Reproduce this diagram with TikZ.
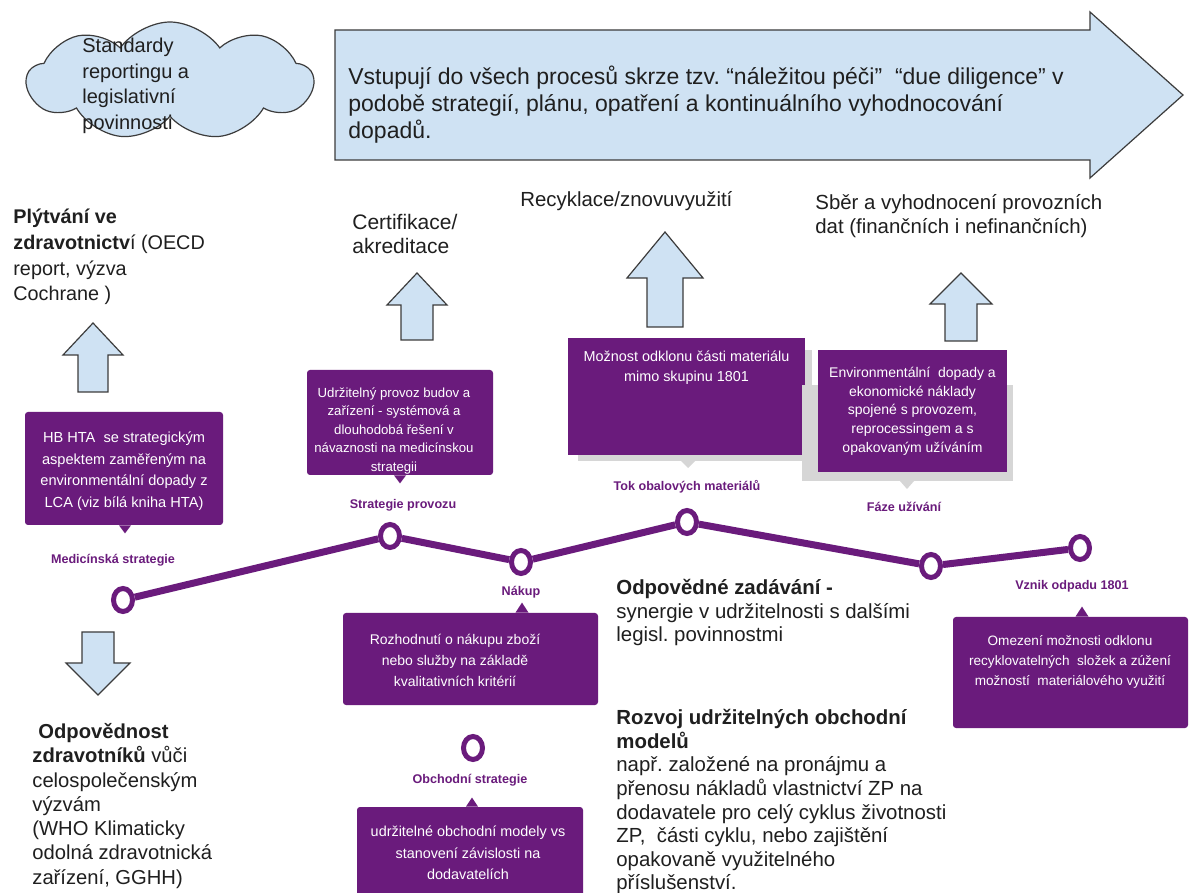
\documentclass[tikz,border=0pt]{standalone}
\usepackage{fontspec}
\setmainfont{Liberation Sans}
\usepackage{tikz}
\usetikzlibrary{shapes.geometric, shapes.symbols, calc, positioning}
\frenchspacing
\definecolor{purp}{RGB}{106,27,124}
\definecolor{lightblue}{RGB}{207,226,243}
\definecolor{edgegray}{RGB}{60,60,60}
\definecolor{shadowgray}{RGB}{214,214,214}
\tikzstyle{txt} = [align=left, inner sep=0pt, text=black!88, font=\fontsize{10.2}{11.8}\selectfont]
\tikzstyle{bigtxt} = [txt, font=\fontsize{11.5}{13.5}\selectfont]
\tikzstyle{card} = [rectangle, rounded corners=1.5pt, fill=purp, inner sep=0pt]
\tikzstyle{flatcard} = [card, rounded corners=0pt]
\tikzstyle{cardtxt} = [text=white, align=center, inner sep=0pt, font=\fontsize{7}{10.5}\selectfont]
\tikzstyle{stage} = [text=purp, inner sep=0pt, font=\bfseries\fontsize{6.3}{8}\selectfont]
\tikzstyle{station} = [ellipse, draw=purp, line width=2.5pt, fill=white, minimum width=9.5pt, minimum height=11.5pt, inner sep=0pt]
\tikzstyle{track} = [draw=purp, line width=3.5pt]
\tikzstyle{blockarrow} = [draw=edgegray, fill=lightblue, line width=0.6pt, line join=miter]

\begin{document}
\begin{tikzpicture}[x=0.5pt, y=-0.5pt]
		\fill[white] (0,0) rectangle (1196,893);
		\useasboundingbox (0,0) rectangle (1196,893);

		% top: cloud and big arrow
		\node (Cloud) [cloud, draw=edgegray, fill=lightblue, line width=0.6pt, cloud puffs=9, cloud puff arc=110, aspect=2.4, minimum width=143pt, minimum height=59pt] at (170,81) {};
		\node (CloudText) [txt, anchor=north west, font=\fontsize{10}{12.7}\selectfont] at (82,38) {Standardy\\reportingu a\\legislativní\\povinnosti};
		\draw[blockarrow] (335,30) -- (1090,30) -- (1090,12) -- (1183,95) -- (1090,178) -- (1090,160) -- (335,160) -- cycle;
		\node (DueDiligence) [bigtxt, anchor=north west] at (348,66) {Vstupují do všech procesů skrze tzv. “náležitou péči”~ “due diligence” v\\podobě strategií, plánu, opatření a kontinuálního vyhodnocování\\dopadů.};

		% outcome texts with arrows
		\node (Plytvani) [txt, anchor=north west, font=\fontsize{9.9}{12.8}\selectfont] at (13,209) {\textbf{Plýtvání ve}\\\textbf{zdravotnictv}í (OECD\\report, výzva\\Cochrane )};
		\draw[blockarrow] (78,392) -- (78,355) -- (63,355) -- (93,323) -- (123,355) -- (108,355) -- (108,392) -- cycle;
		\node (Certifikace) [txt, anchor=north west, font=\fontsize{10.5}{12}\selectfont] at (352,214) {Certifikace/\\akreditace};
		\draw[blockarrow] (401,340) -- (401,305) -- (387,305) -- (417,273) -- (447,305) -- (433,305) -- (433,340) -- cycle;
		\node (Recyklace) [txt, anchor=north west] at (520,191) {Recyklace/znovuvyužití};
		\draw[blockarrow] (647,327) -- (647,278) -- (627,278) -- (665,232) -- (703,278) -- (683,278) -- (683,327) -- cycle;
		\node (Sber) [txt, anchor=north west] at (815,194) {Sběr a vyhodnocení provozních\\dat (finančních i nefinančních)};
		\draw[blockarrow] (945,341) -- (945,304) -- (930,304) -- (961,273) -- (992,304) -- (977,304) -- (977,341) -- cycle;
		\draw[blockarrow] (82,632) -- (114,632) -- (114,663) -- (130,663) -- (98,695) -- (66,663) -- (82,663) -- cycle;
		\node (Odpovednost) [txt, anchor=north west, font=\fontsize{10.1}{12.15}\selectfont] at (32,723) {\hspace{3pt}\textbf{Odpovědnost}\\\textbf{zdravotníků} vůči\\celospolečenským\\výzvám\\(WHO Klimaticky\\odolná zdravotnická\\zařízení, GGHH)};

		% cards
		\node (CardHta) [card, minimum width=99pt, minimum height=56.5pt] at (124,468.5) {};
		\node (CardHtaText) [cardtxt, font=\fontsize{7.3}{10.85}\selectfont] at (124,471) {HB HTA~ se strategickým\\aspektem zaměřeným na\\environmentální dopady z\\LCA (viz bílá kniha HTA)};
		\fill[purp] ($(CardHta.south)+(-5,0)$) -- ($(CardHta.south)+(7,0)$) -- ($(CardHta.south)+(1,8)$) -- cycle;

		\node (CardProvoz) [card, minimum width=93pt, minimum height=52.5pt] at (400,422.5) {};
		\node (CardProvozText) [cardtxt, font=\fontsize{6.6}{9.25}\selectfont] at (394,431) {Udržitelný provoz budov a\\zařízení - systémová a\\dlouhodobá řešení v\\návaznosti na medicínskou\\strategii};
		\fill[purp] ($(CardProvoz.south)+(-6,0)$) -- ($(CardProvoz.south)+(6,0)$) -- ($(CardProvoz.south)+(0,8)$) -- cycle;

		\fill[shadowgray] (578,350) rectangle (812,461);
		\fill[shadowgray] (681,461) -- (695,461) -- (688,468) -- cycle;
		\node (CardTok) [flatcard, minimum width=118.5pt, minimum height=58.5pt] at (686.5,396.5) {};
		\node (CardTokText) [cardtxt, font=\fontsize{7.2}{10}\selectfont, below=6.5pt of CardTok.north] {Možnost odklonu části materiálu\\mimo skupinu 1801};

		\fill[shadowgray] (802,385) rectangle (1013,481);
		\fill[shadowgray] (900,481) -- (914,481) -- (907,489) -- cycle;
		\node (CardFaze) [flatcard, minimum width=94.5pt, minimum height=61pt] at (912.5,411) {};
		\node (CardFazeText) [cardtxt, font=\fontsize{7}{9.35}\selectfont] at (912.5,411) {Environmentální~ dopady a\\ekonomické náklady\\spojené s provozem,\\reprocessingem a s\\opakovaným užíváním};

		\node (CardNakup) [card, minimum width=127.5pt, minimum height=46pt] at (470.5,659) {};
		\node (CardNakupText) [cardtxt] at (455,660) {Rozhodnutí o nákupu zboží\\nebo služby na základě\\kvalitativních kritérií};
		\fill[purp] ($(CardNakup.north)+(45,0)$) -- ($(CardNakup.north)+(58,0)$) -- ($(CardNakup.north)+(51.5,-10)$) -- cycle;

		\node (CardObchod) [card, minimum width=113pt, minimum height=50pt] at (470,857) {};
		\node (CardObchodText) [cardtxt, font=\fontsize{7.2}{10.75}\selectfont] at (468,853) {udržitelné obchodní modely vs\\stanovení závislosti na\\dodavatelích};
		\fill[purp] ($(CardObchod.north)+(-4,0)$) -- ($(CardObchod.north)+(8,0)$) -- ($(CardObchod.north)+(2,-9)$) -- cycle;

		\node (CardVznik) [card, minimum width=117.5pt, minimum height=55.5pt] at (1070.5,672.5) {};
		\node (CardVznikText) [cardtxt, font=\fontsize{6.8}{10}\selectfont] at (1070,662) {Omezení možnosti odklonu\\recyklovatelných~ složek a zúžení\\možností~ materiálového využití};
		\fill[purp] ($(CardVznik.north)+(5,0)$) -- ($(CardVznik.north)+(18,0)$) -- ($(CardVznik.north)+(11.5,-10)$) -- cycle;

		% timeline
		\node (MedStrategy) [station] at (123,600) {};
		\node (Provoz) [station] at (390,536) {};
		\node (Nakup) [station] at (521,562) {};
		\node (TokObal) [station] at (687,522) {};
		\node (Faze) [station] at (931,566) {};
		\node (Vznik) [station] at (1080,548) {};
		\node (Obchod) [station] at (473,748) {};
		\draw[track] (MedStrategy) -- (Provoz) -- (Nakup) -- (TokObal) -- (Faze) -- (Vznik);

		\node (MedStrategyLabel) [stage] at (113,560) {Medicínská strategie};
		\node (ProvozLabel) [stage] at (403,505) {Strategie provozu};
		\node (NakupLabel) [stage] at (521,592) {Nákup};
		\node (TokObalLabel) [stage] at (687,487) {Tok obalových materiálů};
		\node (FazeLabel) [stage] at (904,507) {Fáze užívání};
		\node (VznikLabel) [stage] at (1072,586) {Vznik odpadu 1801};
		\node (ObchodLabel) [stage] at (470,780) {Obchodní strategie};

		% right texts
		\node (Zadavani) [txt, anchor=north west] at (616,579) {\textbf{Odpovědné zadávání -}\\synergie v udržitelnosti s dalšími\\legisl. povinnostmi};
		\node (Rozvoj) [txt, anchor=north west] at (616,709) {\textbf{Rozvoj udržitelných obchodní}\\\textbf{modelů}\\např. založené na pronájmu a\\přenosu nákladů vlastnictví ZP na\\dodavatele pro celý cyklus životnosti\\ZP,~ části cyklu, nebo zajištění\\opakovaně využitelného\\příslušenství.};
\end{tikzpicture}
\end{document}
